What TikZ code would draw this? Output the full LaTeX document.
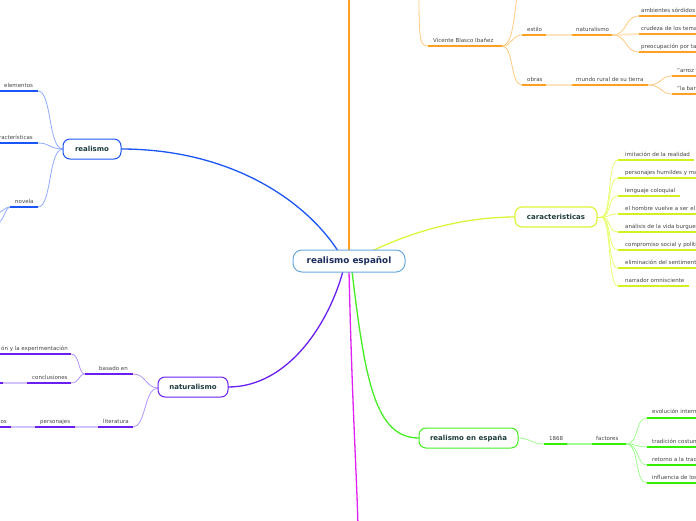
\documentclass[tikz,border=0pt]{standalone}
\usepackage{fontspec}
\setmainfont{DejaVu Sans}
\definecolor{txt}{HTML}{444444}
\definecolor{toptxt}{HTML}{1E3C3C}
\definecolor{ctrtxt}{HTML}{1C2C5C}
\definecolor{ctrbd}{HTML}{6AA8E0}
\definecolor{bM}{HTML}{1A55F5}
\definecolor{bL}{HTML}{8FA9FF}
\definecolor{oM}{HTML}{FFA020}
\definecolor{oL}{HTML}{FFC980}
\definecolor{oF}{HTML}{FFE4BD}
\definecolor{yM}{HTML}{DCF53A}
\definecolor{yU}{HTML}{D4F020}
\definecolor{yL}{HTML}{E8FF70}
\definecolor{pM}{HTML}{6A1FF0}
\definecolor{pL}{HTML}{B394FF}
\definecolor{pF}{HTML}{D2C2FF}
\definecolor{gM}{HTML}{44EE22}
\definecolor{gU}{HTML}{33EE00}
\definecolor{gL}{HTML}{A0FF90}
\definecolor{mM}{HTML}{E020F5}
\begin{document}
\begin{tikzpicture}[x=1pt,y=-1pt,
  lbl/.style={anchor=base west, inner sep=0pt, font=\fontsize{5.5}{6.5}\selectfont, text=txt},
  lble/.style={lbl, anchor=base east},
  topic/.style={draw, rounded corners=7pt, fill=white, line width=1pt, minimum height=20pt, inner sep=0pt, font=\fontsize{7}{8}\selectfont\bfseries, text=toptxt},
  ul/.style={line width=1.8pt},
  cv/.style={line width=0.8pt},
  mainln/.style={line width=1.3pt}]
\useasboundingbox (0,0) rectangle (696,520);
\clip (0,0) rectangle (696,520);

% ---------- anchor coordinates at the central node
\coordinate (cBlue) at (338,251);
\coordinate (cOra) at (349,251);
\coordinate (cYel) at (372,251);
\coordinate (cPur) at (343,271);
\coordinate (cMag) at (349,271);
\coordinate (cGrn) at (352,271);
\coordinate (oraTop) at (349,-5);
\coordinate (magBot) at (358,525);

% ---------- topic node positions
\path (92,149) coordinate (realismoC);
\path (556,217) coordinate (caractC);
\path (193,387) coordinate (naturC);
\path (468.5,438) coordinate (reneC);

% ---------- main connectors
\draw[bM, mainln] (121,149) coordinate (realE) .. controls (230,149) and (305,200) .. (cBlue);
\draw[oM, mainln] (cOra) -- (oraTop);
\draw[yM, mainln] (cYel) .. controls (420,228) and (470,217) .. (515,217) coordinate (caractW);
\draw[pM, mainln] (228,387) coordinate (naturE) .. controls (290,387) and (330,320) .. (cPur);
\draw[mM, mainln] (cMag) .. controls (352,400) and (356,460) .. (magBot);
\draw[gM, mainln] (cGrn) .. controls (365,380) and (375,438) .. (419,438) coordinate (reneW);

% =================== ORANGE (top) ===================
\coordinate (vbL) at (428,46); \coordinate (vbR) at (502,46);
\coordinate (oTopA) at (419,-5); \coordinate (oTopB) at (517,-5);
\coordinate (esL) at (522,35); \coordinate (esR) at (546,35);
\coordinate (naL) at (572,35); \coordinate (naR) at (612,35);
\coordinate (obL) at (522,85); \coordinate (obR) at (546,85);
\coordinate (muL) at (572,85); \coordinate (muR) at (648,85);
\coordinate (amL) at (639,16); \coordinate (amR) at (700,16);
\coordinate (crL) at (639,34); \coordinate (crR) at (700,34);
\coordinate (prL) at (639,52); \coordinate (prR) at (700,52);
\coordinate (arL) at (672,76); \coordinate (arR) at (700,76);
\coordinate (baL) at (672,94); \coordinate (baR) at (700,94);

\draw[oL, cv] (oTopA) .. controls (419,40) and (420,46) .. (vbL);
\draw[oL, cv] (vbR) .. controls (512,46) and (514,20) .. (oTopB);
\draw[oL, cv] (vbR) .. controls (512,46) and (512,35) .. (esL);
\draw[oL, cv] (vbR) .. controls (514,46) and (510,85) .. (obL);
\draw[oF, ul] (esR) -- (naL);
\draw[oF, ul] (obR) -- (muL);
\draw[oL, cv] (naR) .. controls (628,35) and (624,16) .. (amL);
\draw[oF, ul] (naR) -- (crL);
\draw[oL, cv] (naR) .. controls (628,35) and (624,52) .. (prL);
\draw[oL, cv] (muR) .. controls (662,85) and (660,76) .. (arL);
\draw[oL, cv] (muR) .. controls (662,85) and (660,94) .. (baL);
\draw[oM, ul] (vbL) -- (vbR);
\draw[oM, ul] (esL) -- (esR);
\draw[oM, ul] (naL) -- (naR);
\draw[oM, ul] (obL) -- (obR);
\draw[oM, ul] (muL) -- (muR);
\draw[oM, ul] (amL) -- (amR);
\draw[oM, ul] (crL) -- (crR);
\draw[oM, ul] (prL) -- (prR);
\draw[oM, ul] (arL) -- (arR);
\draw[oM, ul] (baL) -- (baR);
\node[lbl] (vb) at (433,42.5) {Vicente Blasco Ibañez};
\node[lbl] (es) at (527,31.5) {estilo};
\node[lbl] (na) at (576,31.5) {naturalismo};
\node[lbl] (ob) at (527,81.5) {obras};
\node[lbl] (mu) at (576,81.5) {mundo rural de su tierra};
\node[lbl] (am) at (641,12.5) {ambientes sórdidos};
\node[lbl] (cr) at (641,30.5) {crudeza de los temas};
\node[lbl] (pr) at (641,48.5) {preocupación por ta};
\node[lbl] (ar) at (677,72.5) {"arroz y tartana"};
\node[lbl] (ba) at (677,90.5) {"la barraca"};

% =================== YELLOW (caracteristicas) ===================
\coordinate (yB) at (601,217);
\foreach \n/\y/\e in {y1/160/694, y2/178/700, y3/196/680, y4/214/700, y5/232/700, y6/250/700, y7/268/700, y8/286/689}{
  \coordinate (\n L) at (618,\y);
  \coordinate (\n R) at (\e,\y);
}
\draw[yM, cv] (caractW) ++(82,0) -- (yB);
\foreach \n in {y1,y2,y3,y4,y5,y6,y7,y8}{
  \draw[yL, cv] (yB) .. controls (612,217) and (607,0|-\n L) .. (\n L);
}
\foreach \n in {y1,y2,y3,y4,y5,y6,y7,y8}{
  \draw[yU, ul] (\n L) -- (\n R);
}
\node[lbl] (t1) at (625,156.5) {imitación de la realidad};
\node[lbl] (t2) at (625,174.5) {personajes humildes y marginados};
\node[lbl] (t3) at (625,192.5) {lenguaje coloquial};
\node[lbl] (t4) at (625,210.5) {el hombre vuelve a ser el centro};
\node[lbl] (t5) at (625,228.5) {análisis de la vida burguesa};
\node[lbl] (t6) at (625,246.5) {compromiso social y político};
\node[lbl] (t7) at (625,264.5) {eliminación del sentimentalismo};
\node[lbl] (t8) at (625,282.5) {narrador omnisciente};

% =================== BLUE (realismo) ===================
\coordinate (rB) at (63,149);
\coordinate (elL) at (-5,91); \coordinate (elR) at (38,91);
\coordinate (caL) at (-5,143); \coordinate (caR) at (38,143);
\coordinate (noL) at (10,207); \coordinate (noR) at (38,207);
\coordinate (noA) at (-3,213); \coordinate (noB) at (-3,224);
\draw[bL, cv] (rB) .. controls (48,149) and (52,91) .. (elR);
\draw[bL, cv] (rB) .. controls (50,149) and (50,143) .. (caR);
\draw[bL, cv] (rB) .. controls (48,149) and (52,207) .. (noR);
\draw[bL, cv] (noL) .. controls (5,207) and (3,212) .. (noA);
\draw[bL, cv] (noL) .. controls (5,208) and (4,221) .. (noB);
\draw[bM, ul] (elL) -- (elR);
\draw[bM, ul] (caL) -- (caR);
\draw[bM, ul] (noL) -- (noR);
\node[lbl] (el) at (4,87.5) {elementos};
\node[lble] (ca) at (33,139.5) {características};
\node[lbl] (no) at (15,203.5) {novela};

% =================== PURPLE (naturalismo) ===================
\coordinate (pB) at (158,388);
\coordinate (bsL) at (85,374); \coordinate (bsR) at (133,374);
\coordinate (liL) at (98,427); \coordinate (liR) at (133,427);
\coordinate (exL) at (-5,354); \coordinate (exR) at (71,354);
\coordinate (coL) at (27,383); \coordinate (coR) at (71,383);
\coordinate (coX) at (3,383); \coordinate (coY) at (-5,383);
\coordinate (peL) at (35,427); \coordinate (peR) at (75,427);
\coordinate (osL) at (-5,427); \coordinate (osR) at (11,427);
\draw[pL, cv] (pB) .. controls (146,388) and (146,374) .. (bsR);
\draw[pL, cv] (pB) .. controls (144,388) and (146,427) .. (liR);
\draw[pL, cv] (bsL) .. controls (78,374) and (80,354) .. (exR);
\draw[pL, cv] (bsL) .. controls (78,374) and (80,383) .. (coR);
\draw[pF, ul] (coX) -- (coL);
\draw[pF, ul] (peR) -- (liL);
\draw[pF, ul] (osR) -- (peL);
\draw[pM, ul] (bsL) -- (bsR);
\draw[pM, ul] (liL) -- (liR);
\draw[pM, ul] (exL) -- (exR);
\draw[pM, ul] (coL) -- (coR);
\draw[pM, ul] (coY) -- (coX);
\draw[pM, ul] (peL) -- (peR);
\draw[pM, ul] (osL) -- (osR);
\node[lbl] (bs) at (99,370.5) {basado en};
\node[lbl] (li) at (103,423.5) {literatura};
\node[lble] (ex) at (68,350.5) {ón y la experimentación};
\node[lbl] (co) at (32,379.5) {conclusiones};
\node[lbl] (pe) at (40,423.5) {personajes};
\node[lble] (os) at (7,423.5) {os};

% =================== GREEN (realismo en espana) ===================
\coordinate (anL) at (544,444); \coordinate (anR) at (567,444);
\coordinate (faL) at (592,444); \coordinate (faR) at (626,444);
\coordinate (evL) at (647,418); \coordinate (evR) at (700,418);
\coordinate (trL) at (647,447); \coordinate (trR) at (700,447);
\coordinate (reL) at (647,465); \coordinate (reR) at (700,465);
\coordinate (inL) at (647,483); \coordinate (inR) at (700,483);
\draw[gL, cv] (reneW) ++(99,0) .. controls (530,438) and (532,444) .. (anL);
\draw[gL, ul] (anR) -- (faL);
\draw[gL, cv] (faR) .. controls (640,444) and (634,418) .. (evL);
\draw[gL, cv] (faR) .. controls (636,444) and (638,447) .. (trL);
\draw[gL, cv] (faR) .. controls (640,444) and (636,465) .. (reL);
\draw[gL, cv] (faR) .. controls (640,444) and (634,483) .. (inL);
\draw[gU, ul] (anL) -- (anR);
\draw[gU, ul] (faL) -- (faR);
\draw[gU, ul] (evL) -- (evR);
\draw[gU, ul] (trL) -- (trR);
\draw[gU, ul] (reL) -- (reR);
\draw[gU, ul] (inL) -- (inR);
\node[lbl] (an) at (549,440.5) {1868};
\node[lbl] (fa) at (596,440.5) {factores};
\node[lbl] (ev) at (652,413.5) {evolución interna};
\node[lbl] (tr) at (652,443) {tradición costumbrista};
\node[lbl] (rt) at (652,461) {retorno a la tradición};
\node[lbl] (iv) at (652,479) {influencia de los};

% =================== topic nodes ===================
\node[topic, draw=bM, minimum width=58pt] (realismo) at (realismoC) {realismo};
\node[topic, draw=yM, line width=1.2pt, minimum width=82pt] (caract) at (caractC) {caracteristicas};
\node[topic, draw=pM, minimum width=70pt] (natur) at (naturC) {naturalismo};
\node[topic, draw=gM, minimum width=99pt] (rene) at (reneC) {realismo en españa};
\node[draw=ctrbd, line width=1pt, rounded corners=9pt, fill=white, minimum width=112pt, minimum height=22pt, inner sep=0pt, font=\fontsize{8.8}{10}\selectfont\bfseries, text=ctrtxt] (central) at (349,261) {realismo español};
\end{tikzpicture}
\end{document}
